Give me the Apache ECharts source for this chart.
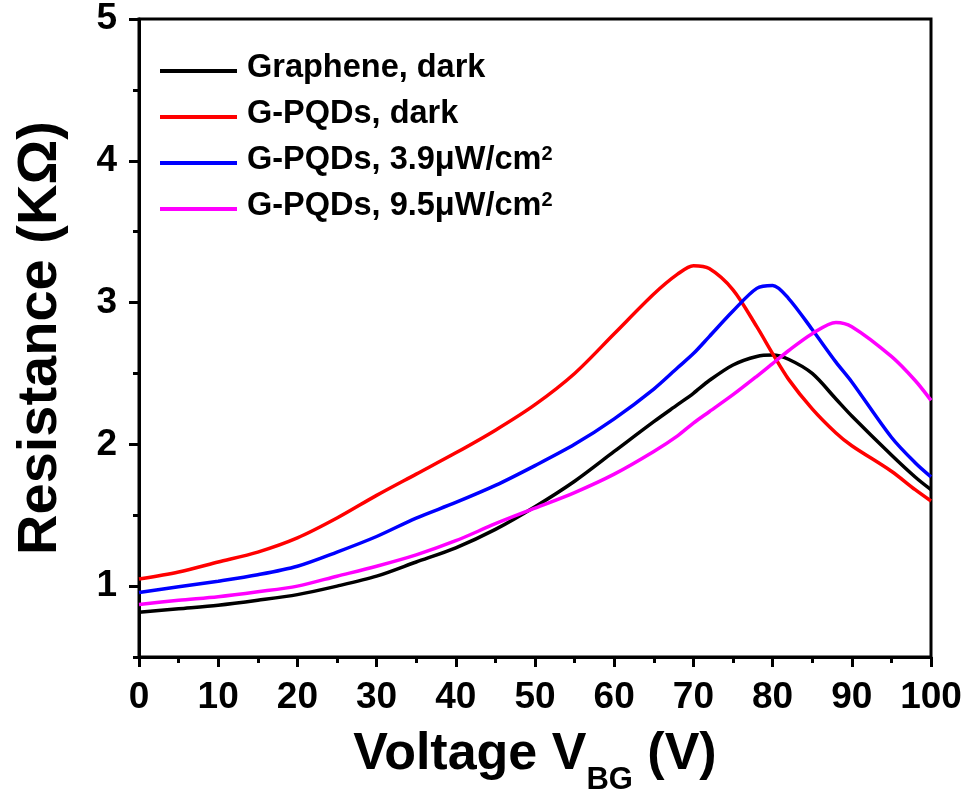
<!DOCTYPE html>
<html>
<head>
<meta charset="utf-8">
<title>Resistance vs Voltage</title>
<script src="https://cdn.jsdelivr.net/npm/echarts@6/dist/echarts.min.js"></script>
<style>
  html, body { margin: 0; padding: 0; background: #fff; }
  #chart { width: 969px; height: 796px; }
</style>
</head>
<body>
<div id="chart"></div>
<script>
// gate voltage (V)
const voltage = [0, 5, 10, 15, 20, 25, 30, 35, 40, 45, 50, 55, 60, 65, 68, 70, 72, 75, 78, 80, 82, 85, 88, 90, 95, 98, 100];

// resistance (KOhm)
const grapheneDark = [0.815, 0.84, 0.865, 0.90, 0.94, 1.00, 1.07, 1.17, 1.27, 1.40, 1.56, 1.74, 1.95, 2.16, 2.28, 2.36, 2.45, 2.56, 2.62, 2.63, 2.60, 2.50, 2.32, 2.20, 1.925, 1.77, 1.68];
const pqdDark = [1.05, 1.10, 1.17, 1.24, 1.34, 1.48, 1.64, 1.79, 1.94, 2.10, 2.28, 2.50, 2.78, 3.06, 3.20, 3.26, 3.24, 3.09, 2.83, 2.64, 2.46, 2.25, 2.08, 1.99, 1.81, 1.68, 1.60];
const pqd39 = [0.955, 0.995, 1.035, 1.08, 1.14, 1.24, 1.35, 1.48, 1.59, 1.71, 1.85, 2.00, 2.18, 2.39, 2.54, 2.64, 2.76, 2.94, 3.10, 3.12, 3.03, 2.81, 2.58, 2.44, 2.05, 1.87, 1.77];
const pqd95 = [0.87, 0.90, 0.925, 0.96, 1.00, 1.07, 1.14, 1.22, 1.32, 1.44, 1.55, 1.66, 1.79, 1.95, 2.06, 2.15, 2.23, 2.35, 2.48, 2.57, 2.66, 2.78, 2.86, 2.83, 2.62, 2.45, 2.31];

const seriesNames = ['Graphene, dark', 'G-PQDs, dark', 'G-PQDs, 3.9μW/cm2', 'G-PQDs, 9.5μW/cm2'];
const seriesColors = ['#000000', '#ff0000', '#0000ff', '#ff00ff'];
const seriesValues = [grapheneDark, pqdDark, pqd39, pqd95];

const yMajor = [1, 2, 3, 4, 5];
const yMinor = [0.5, 1.5, 2.5, 3.5, 4.5];

const FONT = '"Liberation Sans", Arial, Helvetica, sans-serif';

const chart = echarts.init(document.getElementById('chart'));

const option = {
  backgroundColor: '#fff',
  animation: false,
  textStyle: { fontFamily: FONT },
  grid: {
    left: 139,
    right: 38,
    top: 19,
    bottom: 139,
    outerBoundsMode: 'none', // keep the plot box where it is
    show: true,
    borderColor: '#000',
    borderWidth: 3,
    backgroundColor: 'transparent'
  },
  legend: {
    orient: 'vertical',
    left: 160,
    top: 52,
    padding: 0,
    icon: 'rect',
    itemWidth: 77,
    itemHeight: 4,
    itemGap: 13,
    data: seriesNames,
    formatter: function (name) {
      if (/cm2$/.test(name)) {
        return '{t|' + name.slice(0, -1) + '}{sup|2}';
      }
      return '{t|' + name + '}';
    },
    textStyle: {
      fontFamily: FONT,
      rich: {
        t: { fontSize: 32.5, fontWeight: 'bold', color: '#000', lineHeight: 38, verticalAlign: 'top', padding: [0, 0, 0, 5], fontFamily: FONT },
        sup: { fontSize: 20, fontWeight: 'bold', color: '#000', lineHeight: 20, verticalAlign: 'top', fontFamily: FONT }
      }
    }
  },
  xAxis: {
    type: 'value',
    min: 0,
    max: 100,
    interval: 10,
    name: '{m|Voltage V}{sub|BG}{m| (V)}',
    nameLocation: 'middle',
    nameGap: 72,
    nameTextStyle: {
      rich: {
        m: { fontSize: 52, fontWeight: 'bold', color: '#000', lineHeight: 52, verticalAlign: 'top', fontFamily: FONT },
        sub: { fontSize: 31, fontWeight: 'bold', color: '#000', lineHeight: 31, verticalAlign: 'top', padding: [36, 0, 0, 0], fontFamily: FONT }
      }
    },
    axisLine: { show: true, lineStyle: { color: '#000', width: 3 } },
    axisTick: { show: true, length: 10, lineStyle: { color: '#000', width: 3 } },
    minorTick: { show: true, splitNumber: 2, length: 6, lineStyle: { color: '#000', width: 3 } },
    axisLabel: { fontSize: 37, fontWeight: 'bold', color: '#000', margin: 22, fontFamily: FONT },
    splitLine: { show: false },
    minorSplitLine: { show: false }
  },
  yAxis: [
    {
      type: 'value',
      position: 'left',
      min: 0.5,
      max: 5,
      name: 'Resistance (KΩ)',
      nameLocation: 'middle',
      nameGap: 70,
      nameTextStyle: { fontSize: 56, fontWeight: 'bold', color: '#000', fontFamily: FONT },
      axisLine: { show: true, lineStyle: { color: '#000', width: 3 } },
      axisTick: { show: true, length: 10, customValues: yMajor, lineStyle: { color: '#000', width: 3 } },
      axisLabel: { fontSize: 37, fontWeight: 'bold', color: '#000', margin: 22, customValues: yMajor, fontFamily: FONT },
      splitLine: { show: false }
    },
    {
      type: 'value',
      position: 'left',
      offset: 0,
      min: 0.5,
      max: 5,
      axisLine: { show: false },
      axisTick: { show: true, length: 6, customValues: yMinor, lineStyle: { color: '#000', width: 3 } },
      axisLabel: { show: false },
      splitLine: { show: false }
    }
  ],
  series: seriesNames.map(function (name, i) {
    return {
      name: name,
      type: 'line',
      yAxisIndex: 0,
      smooth: 0.3,
      symbol: 'none',
      color: seriesColors[i],
      lineStyle: { width: 3.5, color: seriesColors[i] },
      data: voltage.map(function (v, k) { return [v, seriesValues[i][k]]; })
    };
  })
};

chart.setOption(option);
</script>
</body>
</html>
